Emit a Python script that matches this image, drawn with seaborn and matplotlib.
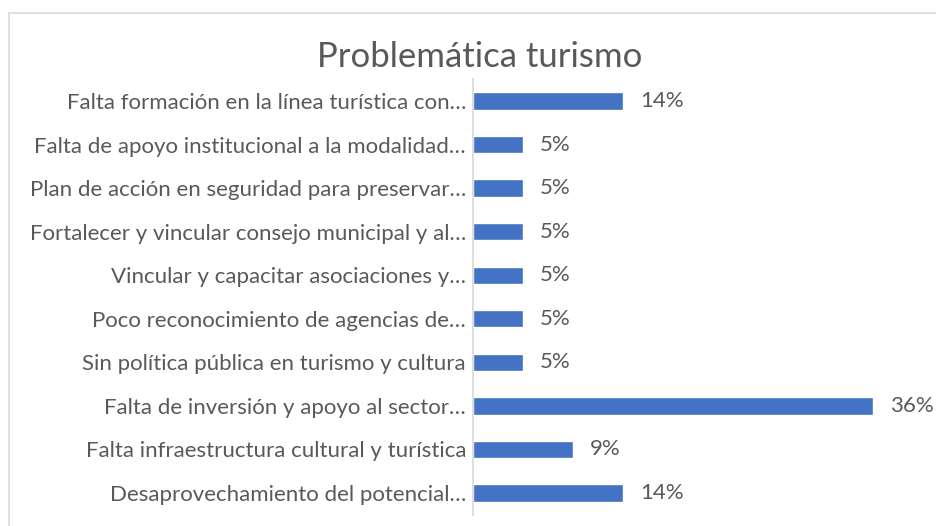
import matplotlib
matplotlib.use('Agg')
import matplotlib.pyplot as plt
import seaborn as sns
import pandas as pd
from matplotlib.lines import Line2D

# categorias de arriba hacia abajo, tal como salen en el grafico
problemas = [
    'Falta formación en la línea turística con…',
    'Falta de apoyo institucional a la modalidad…',
    'Plan de acción en seguridad para preservar…',
    'Fortalecer y vincular consejo municipal y al…',
    'Vincular y capacitar asociaciones y…',
    'Poco reconocimiento de agencias de…',
    'Sin política pública en turismo y cultura',
    'Falta de inversión y apoyo al sector…',
    'Falta infraestructura cultural y turística',
    'Desaprovechamiento del potencial…',
]
porcentajes = [13.64, 4.55, 4.55, 4.55, 4.55, 4.55, 4.55, 36.36, 9.09, 13.64]
titulo = 'Problemática turismo'

gris = '#595959'
azul = '#4472C4'

sns.set_theme(style='white')
plt.rcParams['font.family'] = ['Lato', 'DejaVu Sans']

fig = plt.figure(figsize=(9.37, 5.26), dpi=100)
ax = fig.add_axes([473/937, 11.25/526, (913-473)/937, (514.75-79.25)/526])

df = pd.DataFrame({'problema': problemas, 'pct': porcentajes})
sns.barplot(data=df, x='pct', y='problema', color=azul, saturation=1,
            width=0.4, ax=ax)

ax.set_xlim(0, 40)
ax.xaxis.set_visible(False)
ax.set_ylabel('')
for s in ['top', 'right', 'bottom']:
    ax.spines[s].set_visible(False)
ax.spines['left'].set_color('#D9D9D9')
ax.tick_params(axis='y', length=0, pad=5, labelsize=16, labelcolor=gris)

ax.bar_label(ax.containers[0], labels=[f'{v:.0f}%' for v in porcentajes],
             padding=12, fontsize=16, color=gris)

fig.text(480/937, 1 - 57/526, titulo, ha='center', va='center',
         fontsize=25, color=gris)

# borde del area del grafico (sale de la imagen por abajo y por la derecha)
fig.add_artist(Line2D([9/937, 9/937, 1], [0, 1 - 13/526, 1 - 13/526],
                      transform=fig.transFigure, color='#D9D9D9', lw=1.2))

fig.savefig('out.png', dpi=100)
